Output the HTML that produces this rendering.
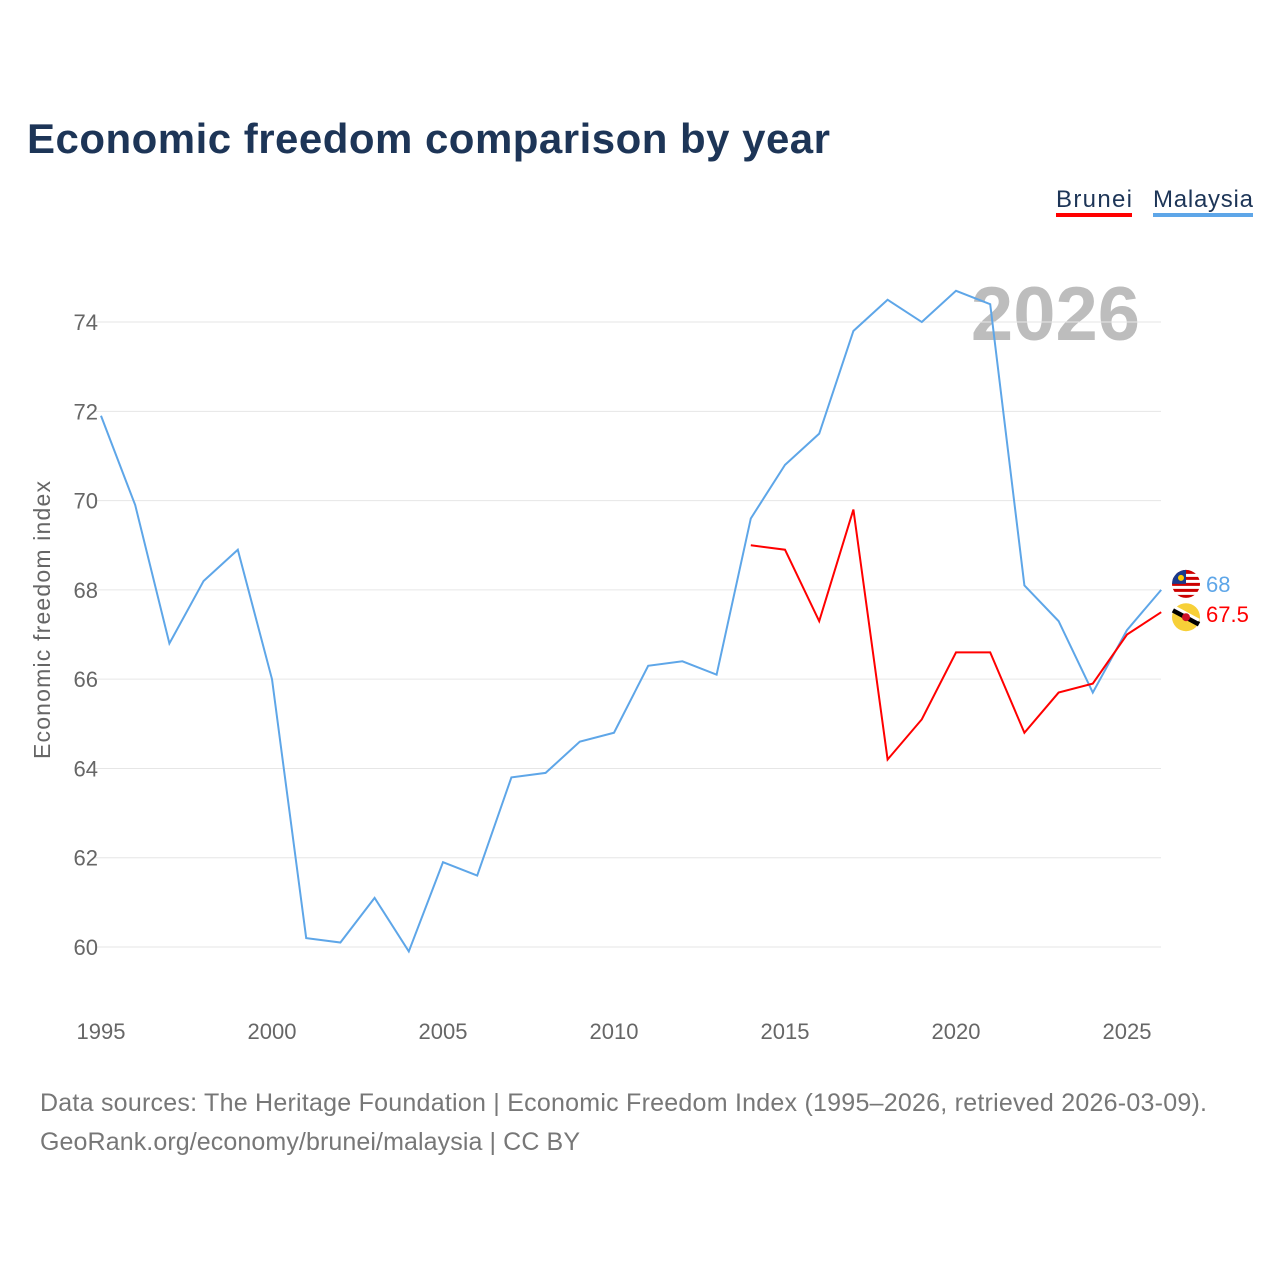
<!DOCTYPE html>
<html><head><meta charset="utf-8"><style>
body{margin:0;background:#fff;font-family:"Liberation Sans",sans-serif;}
svg text{font-family:"Liberation Sans",sans-serif;}
</style></head><body>
<svg width="1280" height="1280" id="chart">
<text x="27" y="153" font-size="42" font-weight="bold" fill="#1d3557" textLength="803">Economic freedom comparison by year</text>
<g>
<text x="1056" y="207" font-size="24" fill="#1d3557" textLength="76">Brunei</text>
<rect x="1056" y="213" width="76" height="4" fill="#ff0000"/>
<text x="1153" y="207" font-size="24" fill="#1d3557" textLength="100">Malaysia</text>
<rect x="1153" y="213" width="100" height="4" fill="#5ea6e8"/>
</g>
<text x="1140" y="340" font-size="76" font-weight="bold" fill="#bdbdbd" text-anchor="end">2026</text>
<text transform="translate(50,620) rotate(-90)" font-size="23" fill="#666" text-anchor="middle" textLength="278">Economic freedom index</text>
<g id="grid"></g><g id="lines"></g>
<text x="40" y="1111" font-size="25" fill="#777" textLength="1167">Data sources: The Heritage Foundation | Economic Freedom Index (1995–2026, retrieved 2026-03-09).</text>
<text x="40" y="1150" font-size="25" fill="#777" textLength="540">GeoRank.org/economy/brunei/malaysia | CC BY</text>
</svg>
<script>
const years=[1995,1996,1997,1998,1999,2000,2001,2002,2003,2004,2005,2006,2007,2008,2009,2010,2011,2012,2013,2014,2015,2016,2017,2018,2019,2020,2021,2022,2023,2024,2025,2026];
const malaysia=[71.9,69.9,66.8,68.2,68.9,66.0,60.2,60.1,61.1,59.9,61.9,61.6,63.8,63.9,64.6,64.8,66.3,66.4,66.1,69.6,70.8,71.5,73.8,74.5,74.0,74.7,74.4,68.1,67.3,65.7,67.1,68.0];
const bruneiYears=[2014,2015,2016,2017,2018,2019,2020,2021,2022,2023,2024,2025,2026];
const brunei=[69.0,68.9,67.3,69.8,64.2,65.1,66.6,66.6,64.8,65.7,65.9,67.0,67.5];
const yTicks=[60,62,64,66,68,70,72,74];
const xTicks=[1995,2000,2005,2010,2015,2020,2025];
const X=y=>101+(y-1995)*34.2;
const Y=v=>947-(v-60)*44.64;
const NS="http://www.w3.org/2000/svg";
const g=document.getElementById('grid'),L=document.getElementById('lines');
function mk(tag,attrs,parent){const e=document.createElementNS(NS,tag);for(const k in attrs)e.setAttribute(k,attrs[k]);parent.appendChild(e);return e;}
yTicks.forEach(t=>{
 const l=mk('line',{x1:95,x2:1161,y1:Y(t),y2:Y(t),stroke:'#e6e6e6','stroke-width':1},g);
 
 
 const tx=mk('text',{x:98,y:Y(t)+8,'font-size':22,fill:'#666','text-anchor':'end'},g);tx.textContent=t;
 
 
});
xTicks.forEach(t=>{
 const tx=mk('text',{x:X(t),y:1039,'font-size':22,fill:'#666','text-anchor':'middle'},g);tx.textContent=t;
 
 
});
const mp=mk('polyline',{points:years.map((y,i)=>X(y)+','+Y(malaysia[i])).join(' '),fill:'none',stroke:'#5ea6e8','stroke-width':2},L);


const bp=mk('polyline',{points:bruneiYears.map((y,i)=>X(y)+','+Y(brunei[i])).join(' '),fill:'none',stroke:'#ff0000','stroke-width':2},L);


const mv=malaysia[malaysia.length-1],bv=brunei[brunei.length-1];
const mY=Y(mv)-6,bY=Y(bv)+5,fx=1186;
mk('circle',{cx:fx,cy:mY,r:14,fill:'#cc0000'},L);
for(let i=0;i<4;i++)mk('rect',{x:fx-14,y:mY-10+i*6,width:28,height:3,fill:'#fff'},L);
mk('path',{d:`M${fx-14},${mY} A14,14 0 0 1 ${fx},${mY-14} L${fx},${mY} Z`,fill:'#1a3a8c'},L);
mk('circle',{cx:fx-5,cy:mY-6,r:3,fill:'#ffcc00'},L);
const mf=L.lastChild;
mk('circle',{cx:fx,cy:bY,r:14,fill:'#f7d038'},L);
mk('line',{x1:fx-13,y1:bY-7,x2:fx+13,y2:bY+7,stroke:'#000','stroke-width':5},L);
mk('line',{x1:fx-13,y1:bY-11,x2:fx+13,y2:bY+3,stroke:'#fff','stroke-width':3},L);
mk('circle',{cx:fx,cy:bY,r:4,fill:'#cf1126'},L);
const bf=L.lastChild;
const ml=mk('text',{x:1206,y:mY+8,'font-size':22,fill:'#5ea6e8'},L);ml.textContent=mv;


const bl=mk('text',{x:1206,y:bY+5,'font-size':22,fill:'#ff0000'},L);bl.textContent=bv;


</script>
</body></html>
